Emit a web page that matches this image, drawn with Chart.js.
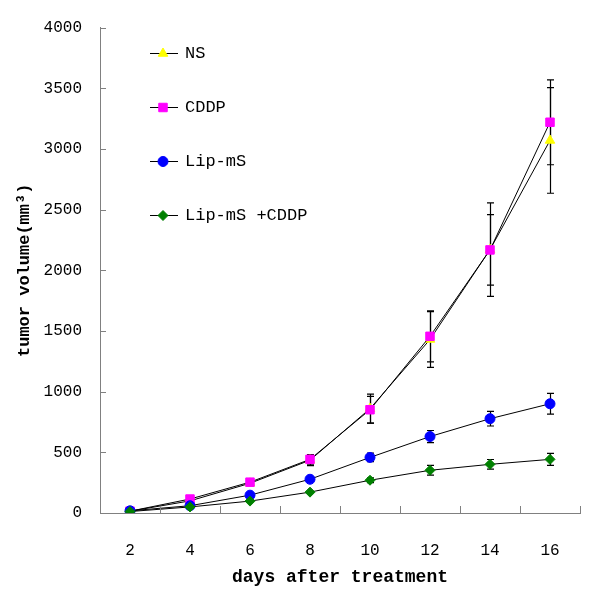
<!DOCTYPE html>
<html><head><meta charset="utf-8">
<script src="https://cdn.jsdelivr.net/npm/chart.js@4/dist/chart.umd.min.js"></script>
<style>html,body{margin:0;padding:0;background:#fff}#wrap{width:600px;height:600px}</style>
</head><body><div id="wrap"><canvas id="c" width="600" height="600"></canvas></div>
<script>
const days = ['2','4','6','8','10','12','14','16'];
const nsValues = [15, 100, 245, 435, 860, 1430, 2170, 3070];
const nsErrors = [0, 0, 0, 45, 120, 230, 385, 435];
const cddpValues = [15, 115, 254, 442, 851, 1456, 2168, 3220];
const cddpErrors = [0, 0, 0, 40, 110, 210, 290, 350];
const lipValues = [18, 60, 147, 278, 458, 630, 777, 900];
const lipErrors = [0, 0, 0, 0, 35, 50, 60, 85];
const comboValues = [12, 50, 98, 172, 270, 352, 401, 442];
const comboErrors = [0, 0, 0, 0, 20, 40, 40, 50];
const seriesNames = ['NS', 'CDDP', 'Lip-mS', 'Lip-mS +CDDP'];
const yMin = 0, yMax = 4000, yStep = 500;
const xTitle = 'days after treatment';
const yTitle = 'tumor volume(mm³)';

const FONT = '"Liberation Mono", "DejaVu Sans Mono", monospace';
const errorSets = [nsErrors, cddpErrors, lipErrors, comboErrors];

const styles = [
  {pointStyle: 'triangle', color: '#FFFF00', radius: 5.5},
  {pointStyle: 'rect', color: '#FF00FF', radius: 6},
  {pointStyle: 'circle', color: '#0000FF', radius: 5},
  {pointStyle: 'rectRot', color: '#008000', radius: 5}
];
const valueSets = [nsValues, cddpValues, lipValues, comboValues];

const datasets = valueSets.map((vals, i) => ({
  label: seriesNames[i],
  data: vals,
  borderColor: '#000',
  borderWidth: 1,
  pointStyle: styles[i].pointStyle,
  pointRadius: styles[i].radius,
  pointBackgroundColor: styles[i].color,
  pointBorderColor: styles[i].color,
  pointBorderWidth: 1,
  tension: 0,
  fill: false,
  order: 4 - i
}));

const errorBars = {
  id: 'errorBars',
  beforeDatasetsDraw(chart) {
    const ctx = chart.ctx, ys = chart.scales.y;
    ctx.save();
    ctx.strokeStyle = '#000';
    ctx.lineWidth = 1.2;
    chart.data.datasets.forEach((ds, i) => {
      const meta = chart.getDatasetMeta(i);
      const errs = errorSets[i];
      meta.data.forEach((pt, j) => {
        const e = errs[j];
        if (!e) return;
        const v = ds.data[j];
        const x = Math.round(pt.x) + 0.5;
        const yt = ys.getPixelForValue(v + e), yb = ys.getPixelForValue(v - e);
        ctx.beginPath();
        ctx.moveTo(x, yt); ctx.lineTo(x, yb);
        ctx.moveTo(x - 3.5, yt); ctx.lineTo(x + 3.5, yt);
        ctx.moveTo(x - 3.5, yb); ctx.lineTo(x + 3.5, yb);
        ctx.stroke();
      });
    });
    ctx.restore();
  }
};

const innerTicks = {
  id: 'innerTicks',
  afterDraw(chart) {
    const ctx = chart.ctx, xs = chart.scales.x, ys = chart.scales.y;
    const ca = chart.chartArea;
    ctx.save();
    ctx.strokeStyle = '#808080';
    ctx.lineWidth = 1;
    ctx.beginPath();
    const n = xs.ticks.length;
    for (let i = 0; i < n; i++) {
      let bx;
      if (i < n - 1) bx = (xs.getPixelForTick(i) + xs.getPixelForTick(i + 1)) / 2;
      else bx = ca.right;
      bx = Math.round(bx) + 0.5;
      ctx.moveTo(bx, ca.bottom);
      ctx.lineTo(bx, ca.bottom - 7);
    }
    ys.ticks.forEach(t => {
      const py = Math.round(ys.getPixelForValue(t.value)) + 0.5;
      ctx.moveTo(ca.left, py);
      ctx.lineTo(ca.left + 6, py);
    });
    ctx.stroke();
    ctx.restore();
  }
};

const insideLegend = {
  id: 'insideLegend',
  afterDraw(chart) {
    const ctx = chart.ctx, ca = chart.chartArea;
    const x0 = ca.left + 50, y0 = ca.top + 25, gap = 54;
    ctx.save();
    chart.data.datasets.forEach((ds, i) => {
      const y = Math.round(y0 + i * gap) + 0.5;
      ctx.strokeStyle = '#000';
      ctx.lineWidth = 1;
      ctx.beginPath();
      ctx.moveTo(x0, y); ctx.lineTo(x0 + 28, y);
      ctx.stroke();
      ctx.fillStyle = styles[i].color;
      ctx.strokeStyle = styles[i].color;
      Chart.helpers.drawPoint(ctx, {pointStyle: styles[i].pointStyle, radius: styles[i].radius, rotation: 0, borderWidth: 1}, x0 + 13, y);
      ctx.fillStyle = '#000';
      ctx.font = '17px ' + FONT;
      ctx.textBaseline = 'middle';
      ctx.textAlign = 'left';
      ctx.fillText(ds.label, x0 + 35, y);
    });
    ctx.restore();
  }
};

new Chart(document.getElementById('c'), {
  type: 'line',
  data: {labels: days, datasets},
  options: {
    responsive: false,
    devicePixelRatio: 1,
    animation: false,
    events: [],
    layout: {padding: {left: 0, right: 20, top: 24, bottom: 0}},
    plugins: {legend: {display: false}, tooltip: {enabled: false}},
    scales: {
      x: {
        type: 'category',
        offset: true,
        grid: {display: false, drawTicks: false},
        border: {display: true, color: '#808080', width: 1},
        ticks: {color: '#000', font: {family: FONT, size: 16}, padding: 28, maxRotation: 0},
        title: {display: true, text: xTitle, color: '#000', font: {family: FONT, size: 18, weight: 'bold'}, padding: {top: 0, bottom: 12}},
        afterFit(s) { s.height = 87; }
      },
      y: {
        min: yMin, max: yMax,
        grid: {display: false, drawTicks: false},
        border: {display: true, color: '#808080', width: 1},
        ticks: {stepSize: yStep, color: '#000', font: {family: FONT, size: 16}, padding: 18, callback: v => String(v)},
        title: {display: true, text: yTitle, color: '#000', font: {family: FONT, size: 17, weight: 'bold'}, padding: {top: 15, bottom: 0}},
        afterFit(s) { s.width = 100; }
      }
    }
  },
  plugins: [errorBars, innerTicks, insideLegend]
});
</script></body></html>
